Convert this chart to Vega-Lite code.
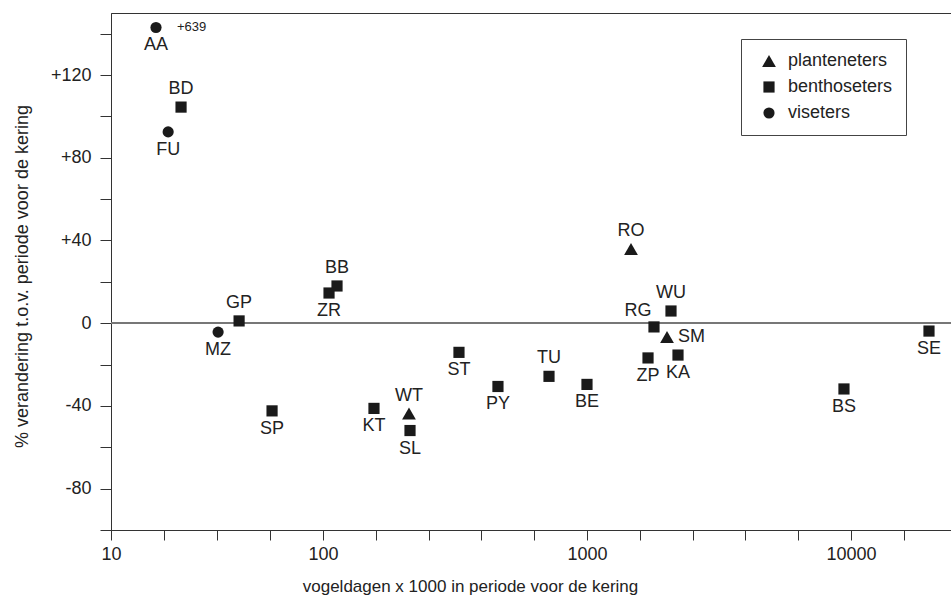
{
  "$schema": "https://vega.github.io/schema/vega-lite/v6.json",
  "width": 840,
  "height": 517,
  "autosize": {"type": "none"},
  "padding": {"left": 111, "top": 13, "right": 0, "bottom": 82},
  "background": "white",
  "config": {
    "font": "Liberation Sans",
    "view": {"stroke": "#333", "strokeWidth": 1}
  },
  "data": {
    "values": [
      {"code": "AA", "group": "viseters", "x": 16.3, "y": 143, "note": "+639"},
      {"code": "FU", "group": "viseters", "x": 18.6, "y": 92.5},
      {"code": "BD", "group": "benthoseters", "x": 21.4, "y": 104.5},
      {"code": "MZ", "group": "viseters", "x": 32, "y": -4.3},
      {"code": "GP", "group": "benthoseters", "x": 40.2, "y": 1.1},
      {"code": "SP", "group": "benthoseters", "x": 57.5, "y": -42.4},
      {"code": "ZR", "group": "benthoseters", "x": 105.4, "y": 14.6},
      {"code": "BB", "group": "benthoseters", "x": 113, "y": 18},
      {"code": "KT", "group": "benthoseters", "x": 156, "y": -41.2},
      {"code": "WT", "group": "planteneters", "x": 211.7, "y": -43.7},
      {"code": "SL", "group": "benthoseters", "x": 213.6, "y": -51.9},
      {"code": "ST", "group": "benthoseters", "x": 327.4, "y": -14.1},
      {"code": "PY", "group": "benthoseters", "x": 460, "y": -30.6},
      {"code": "TU", "group": "benthoseters", "x": 718, "y": -25.7},
      {"code": "BE", "group": "benthoseters", "x": 1000, "y": -29.6},
      {"code": "RO", "group": "planteneters", "x": 1468, "y": 35.9},
      {"code": "ZP", "group": "benthoseters", "x": 1703, "y": -16.8},
      {"code": "RG", "group": "benthoseters", "x": 1794, "y": -1.8},
      {"code": "SM", "group": "planteneters", "x": 2010, "y": -6.7},
      {"code": "WU", "group": "benthoseters", "x": 2081, "y": 5.9},
      {"code": "KA", "group": "benthoseters", "x": 2212, "y": -15.4},
      {"code": "BS", "group": "benthoseters", "x": 9408, "y": -31.8},
      {"code": "SE", "group": "benthoseters", "x": 19750, "y": -3.8}
    ]
  },
  "layer": [
    {
      "mark": {"type": "rule", "color": "#777", "strokeWidth": 1},
      "encoding": {
        "y": {
          "datum": 0,
          "type": "quantitative",
          "scale": {"domain": [-100, 150], "nice": false, "zero": false}
        }
      }
    },
    {
      "mark": {"type": "point", "filled": true, "opacity": 1, "color": "#1a1a1a"},
      "encoding": {
        "x": {
          "field": "x",
          "type": "quantitative",
          "scale": {"type": "log", "domain": [10, 100, 23930], "range": [0, 212, 840], "nice": false, "zero": false},
          "axis": {
            "title": "vogeldagen x 1000 in periode voor de kering",
            "values": [10, 17.78, 31.62, 56.23, 100, 158.5, 251.2, 398.1, 631, 1000, 1585, 2512, 3981, 6310, 10000, 15849],
            "format": "d",
            "labelExpr": "datum.value == 10 || datum.value == 100 || datum.value == 1000 || datum.value == 10000 ? datum.label : ''",
            "labelOverlap": false,
            "labelFlush": false,
            "grid": false,
            "tickSize": 10,
            "tickColor": "#333",
            "domainColor": "#333",
            "labelFontSize": 18,
            "labelColor": "#222",
            "labelPadding": 5,
            "titleFontSize": 17,
            "titleFontWeight": "normal",
            "titleColor": "#222",
            "titleX": 359,
            "titleY": 56,
            "titleBaseline": "middle"
          }
        },
        "y": {
          "field": "y",
          "type": "quantitative",
          "scale": {"domain": [-100, 150], "nice": false, "zero": false},
          "axis": {
            "title": "% verandering t.o.v. periode voor de kering",
            "values": [-100, -80, -60, -40, -20, 0, 20, 40, 60, 80, 100, 120, 140],
            "labelExpr": "datum.value % 40 == 0 ? (datum.value > 0 ? '+' + datum.value : '' + datum.value) : ''",
            "grid": false,
            "tickSize": 11,
            "tickColor": "#333",
            "domainColor": "#333",
            "labelFontSize": 18,
            "labelColor": "#222",
            "labelPadding": 9,
            "titleFontSize": 18,
            "titleFontWeight": "normal",
            "titleColor": "#222",
            "titleX": -89,
            "titleY": 263,
            "titleBaseline": "middle"
          }
        },
        "shape": {
          "field": "group",
          "type": "nominal",
          "scale": {"domain": ["planteneters", "benthoseters", "viseters"], "range": ["triangle-up", "square", "circle"]},
          "legend": {
            "title": null,
            "orient": "none",
            "legendX": 630,
            "legendY": 26,
            "strokeColor": "#444",
            "fillColor": "white",
            "padding": 13,
            "symbolOffset": 6,
            "labelOffset": 10,
            "labelFontSize": 18,
            "labelColor": "#222",
            "symbolFillColor": "#1a1a1a",
            "symbolStrokeWidth": 0,
            "rowPadding": 8
          }
        },
        "size": {
          "field": "group",
          "type": "nominal",
          "scale": {"type": "ordinal", "domain": ["planteneters", "benthoseters", "viseters"], "range": [190, 125, 125]},
          "legend": {
            "title": null,
            "orient": "none",
            "legendX": 630,
            "legendY": 26,
            "strokeColor": "#444",
            "fillColor": "white",
            "padding": 13,
            "symbolOffset": 6,
            "labelOffset": 10,
            "labelFontSize": 18,
            "labelColor": "#222",
            "symbolFillColor": "#1a1a1a",
            "symbolStrokeWidth": 0,
            "rowPadding": 8
          }
        }
      }
    },
    {
      "transform": [{"filter": {"field": "code", "oneOf": ["BD", "GP", "BB", "TU", "WT", "RO", "WU"]}}],
      "mark": {"type": "text", "fontSize": 18, "color": "#222", "dy": -18, "baseline": "middle"},
      "encoding": {
        "x": {"field": "x", "type": "quantitative"},
        "y": {"field": "y", "type": "quantitative"},
        "text": {"field": "code"}
      }
    },
    {
      "transform": [{"filter": {"field": "code", "oneOf": ["AA", "FU", "MZ", "SP", "ZR", "KT", "SL", "ST", "PY", "BE", "ZP", "KA", "BS", "SE"]}}],
      "mark": {"type": "text", "fontSize": 18, "color": "#222", "dy": 18, "baseline": "middle"},
      "encoding": {
        "x": {"field": "x", "type": "quantitative"},
        "y": {"field": "y", "type": "quantitative"},
        "text": {"field": "code"}
      }
    },
    {
      "transform": [{"filter": {"field": "code", "equal": "RG"}}],
      "mark": {"type": "text", "fontSize": 18, "color": "#222", "dx": -16, "dy": -16, "baseline": "middle"},
      "encoding": {
        "x": {"field": "x", "type": "quantitative"},
        "y": {"field": "y", "type": "quantitative"},
        "text": {"field": "code"}
      }
    },
    {
      "transform": [{"filter": {"field": "code", "equal": "SM"}}],
      "mark": {"type": "text", "fontSize": 18, "color": "#222", "dx": 11, "align": "left", "baseline": "middle"},
      "encoding": {
        "x": {"field": "x", "type": "quantitative"},
        "y": {"field": "y", "type": "quantitative"},
        "text": {"field": "code"}
      }
    },
    {
      "transform": [{"filter": "isValid(datum.note)"}],
      "mark": {"type": "text", "fontSize": 13, "color": "#222", "dx": 21, "align": "left", "baseline": "middle"},
      "encoding": {
        "x": {"field": "x", "type": "quantitative"},
        "y": {"field": "y", "type": "quantitative"},
        "text": {"field": "note"}
      }
    }
  ]
}
